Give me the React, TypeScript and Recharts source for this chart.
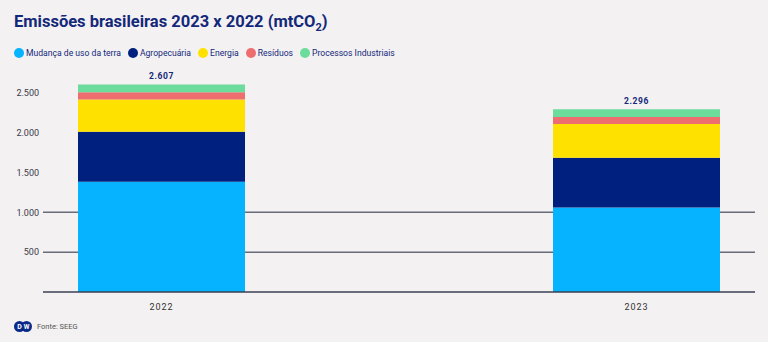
import React from "react";
import {
  BarChart,
  Bar,
  XAxis,
  YAxis,
  CartesianGrid,
  LabelList,
} from "recharts";

const YEARS = ["2022", "2023"];
const MUDANCA = [1384, 1062];
const AGRO = [628, 624];
const ENERGIA = [407, 423];
const RESIDUOS = [88, 88];
const PROCESSOS = [100, 99];
const Y_TICKS = [500, 1000, 1500, 2000, 2500];
const GRID_VALUES = [500, 1000];

const SERIES = [
  { key: "mudanca", name: "Mudança de uso da terra", color: "#06b3ff" },
  { key: "agro", name: "Agropecuária", color: "#00207f" },
  { key: "energia", name: "Energia", color: "#ffe100" },
  { key: "residuos", name: "Resíduos", color: "#ee6e70" },
  { key: "processos", name: "Processos Industriais", color: "#6bdc9b" },
];

const data = YEARS.map((year, i) => ({
  year,
  mudanca: MUDANCA[i],
  agro: AGRO[i],
  energia: ENERGIA[i],
  residuos: RESIDUOS[i],
  processos: PROCESSOS[i],
  total: MUDANCA[i] + AGRO[i] + ENERGIA[i] + RESIDUOS[i] + PROCESSOS[i],
}));

const fmt = (v: number) => String(v).replace(/\B(?=(\d{3})+(?!\d))/g, ".");

const FONT = "Roboto, 'Noto Sans', sans-serif";
const NAVY = "#14287a";

export default function App() {
  return (
    <div
      style={{
        position: "absolute",
        left: 0,
        top: 0,
        width: 768,
        height: 342,
        background: "#f3f1f1",
        fontFamily: FONT,
        overflow: "hidden",
      }}
    >
      {/* Title */}
      <div
        style={{
          position: "absolute",
          left: 14,
          top: 12,
          fontSize: 16.5,
          fontWeight: 700,
          color: NAVY,
          whiteSpace: "nowrap",
        }}
      >
        Emissões brasileiras 2023 x 2022 (mtCO
        <sub style={{ fontSize: 11 }}>2</sub>)
      </div>

      {/* Legend */}
      <div
        style={{
          position: "absolute",
          left: 14,
          top: 48,
          display: "flex",
          alignItems: "center",
          gap: 7,
          fontSize: 8.6,
          color: NAVY,
          whiteSpace: "nowrap",
        }}
      >
        {SERIES.map((s) => (
          <div key={s.key} style={{ display: "flex", alignItems: "center", gap: 2 }}>
            <span
              style={{
                width: 10,
                height: 10,
                borderRadius: "50%",
                background: s.color,
                display: "inline-block",
              }}
            />
            {s.name}
          </div>
        ))}
      </div>

      {/* Chart */}
      <div style={{ position: "absolute", left: 0, top: 0 }}>
        <BarChart
          width={768}
          height={320}
          data={data}
          margin={{ top: 77, right: 13, bottom: 8, left: 8 }}
        >
          <CartesianGrid
            vertical={false}
            horizontalValues={GRID_VALUES}
            stroke="#696a79"
            strokeWidth={1.5}
          />
          <XAxis
            dataKey="year"
            height={20}
            padding={{ left: -119, right: -119 }}
            tickLine={false}
            axisLine={{ stroke: "#3b3f52", strokeWidth: 1.5 }}
            tick={{ fontSize: 9, fill: "#333", letterSpacing: 1 }}
            tickMargin={6}
          />
          <YAxis
            width={35}
            domain={[0, 2700]}
            ticks={Y_TICKS}
            tickFormatter={fmt}
            axisLine={false}
            tickLine={false}
            tickSize={4}
            tickMargin={0}
            tick={{ fontSize: 9, fill: "#3a3a4a" }}
          />
          {SERIES.map((s, idx) => (
            <Bar
              key={s.key}
              dataKey={s.key}
              stackId="a"
              fill={s.color}
              barSize={167}
              isAnimationActive={false}
            >
              {idx === SERIES.length - 1 && (
                <LabelList
                  dataKey="total"
                  position="top"
                  offset={5}
                  formatter={(v: number) => fmt(v)}
                  style={{ fontSize: 8.5, fontWeight: 700, fill: NAVY, letterSpacing: 0.6 }}
                />
              )}
            </Bar>
          ))}
        </BarChart>
      </div>

      {/* Footer */}
      <div
        style={{
          position: "absolute",
          left: 14,
          top: 321,
          display: "flex",
          alignItems: "center",
          gap: 5,
          fontSize: 7.5,
          color: "#555",
        }}
      >
        <svg width={18} height={11} viewBox="0 0 18 11">
          <circle cx={5.5} cy={5.5} r={5.5} fill="#0a2a8a" />
          <circle cx={12.5} cy={5.5} r={5.5} fill="#0a2a8a" />
          <text x={5.5} y={8} textAnchor="middle" fontSize={7} fontWeight={700} fill="#fff">
            D
          </text>
          <text x={12.5} y={8} textAnchor="middle" fontSize={6.5} fontWeight={700} fill="#fff">
            W
          </text>
        </svg>
        <span>Fonte: SEEG</span>
      </div>
    </div>
  );
}
